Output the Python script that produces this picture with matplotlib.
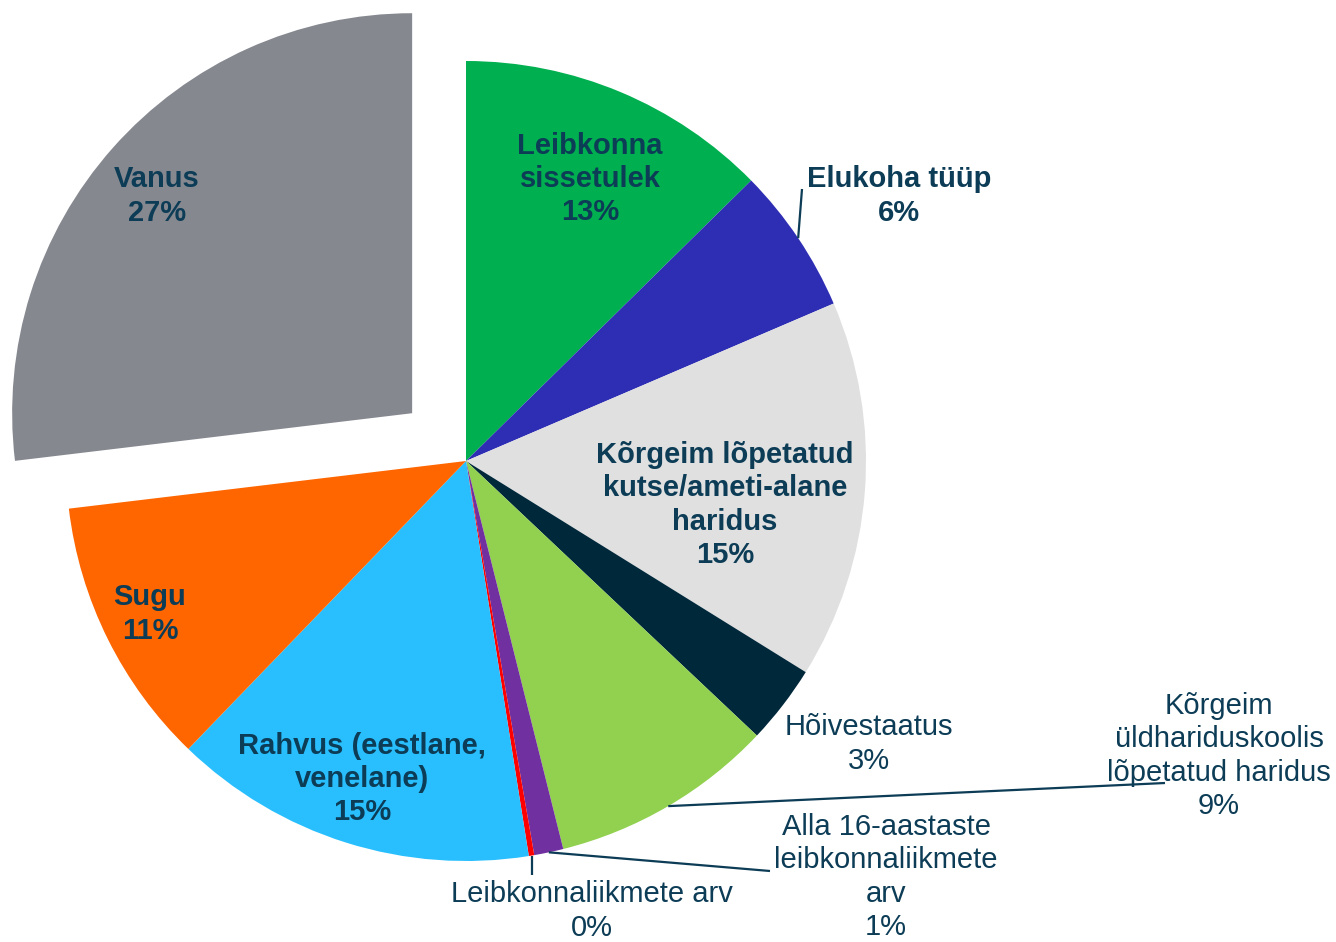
import numpy as np
import matplotlib
matplotlib.use("Agg")
import matplotlib.pyplot as plt

plt.rcParams["font.family"] = ["Liberation Sans", "DejaVu Sans"]

# shares (percent), clockwise from 12 o'clock
labels = ["Leibkonna\nsissetulek", "Elukoha tüüp",
          "Kõrgeim lõpetatud\nkutse/ameti-alane\nharidus", "Hõivestaatus",
          "Kõrgeim\nüldhariduskoolis\nlõpetatud haridus",
          "Alla 16-aastaste\nleibkonnaliikmete\narv", "Leibkonnaliikmete arv",
          "Rahvus (eestlane,\nvenelane)", "Sugu", "Vanus"]
values = [12.63, 5.93, 15.29, 3.19, 9.05, 1.18, 0.22, 14.72, 10.89, 26.9]
colors = ["#00B050", "#2E2EB4", "#E0E0E0", "#00283B", "#92D050",
          "#7030A0", "#FF0000", "#29BFFF", "#FF6600", "#85888F"]
explode_frac = [0, 0, 0, 0, 0, 0, 0, 0, 0, 0.18]

TXT = "#0C3C56"
W, H = 1336, 942
fig = plt.figure(figsize=(W / 100, H / 100), dpi=100)
ax = fig.add_axes([0, 0, 1, 1])

cx, cy, R = 466, H - 461, 400
# pie's explode is an absolute offset, so scale by the radius
wedges, _ = ax.pie(values, colors=colors, explode=[e * R for e in explode_frac],
                   startangle=90, counterclock=False, center=(cx, cy), radius=R,
                   wedgeprops=dict(linewidth=0), frame=True)
ax.set_xlim(0, W); ax.set_ylim(0, H); ax.set_aspect("equal"); ax.axis("off")

# label text position (image px), bold?, leader line end (image px) or None
place = [
    ((590, 179), True, None),
    ((899, 196), True, (802, 189)),
    ((725, 505), True, None),
    ((869, 744), False, None),
    ((1219, 756), False, (1165, 783)),
    ((886, 877), False, (770, 871)),
    ((592, 911), False, "down"),
    ((362, 779), True, None),
    ((150, 614), True, None),
    ((157, 196), True, None),
]

for w, lab, v, (pos, bold, lead) in zip(wedges, labels, values, place):
    txt = f"{lab}\n{round(v):d}%"
    ax.text(pos[0], H - pos[1], txt, ha="center", va="center", fontsize=21,
            fontweight="bold" if bold else "normal", color=TXT,
            linespacing=1.25)
    if lead is None:
        continue
    mid = np.deg2rad((w.theta1 + w.theta2) / 2)
    x0, y0 = cx + R * np.cos(mid), cy + R * np.sin(mid)
    if lead == "down":
        x1, y1 = x0, H - 875
    else:
        x1, y1 = lead[0], H - lead[1]
    ax.plot([x0, x1], [y0, y1], color=TXT, lw=1.6, solid_capstyle="butt")

fig.savefig("out.png", dpi=100)
